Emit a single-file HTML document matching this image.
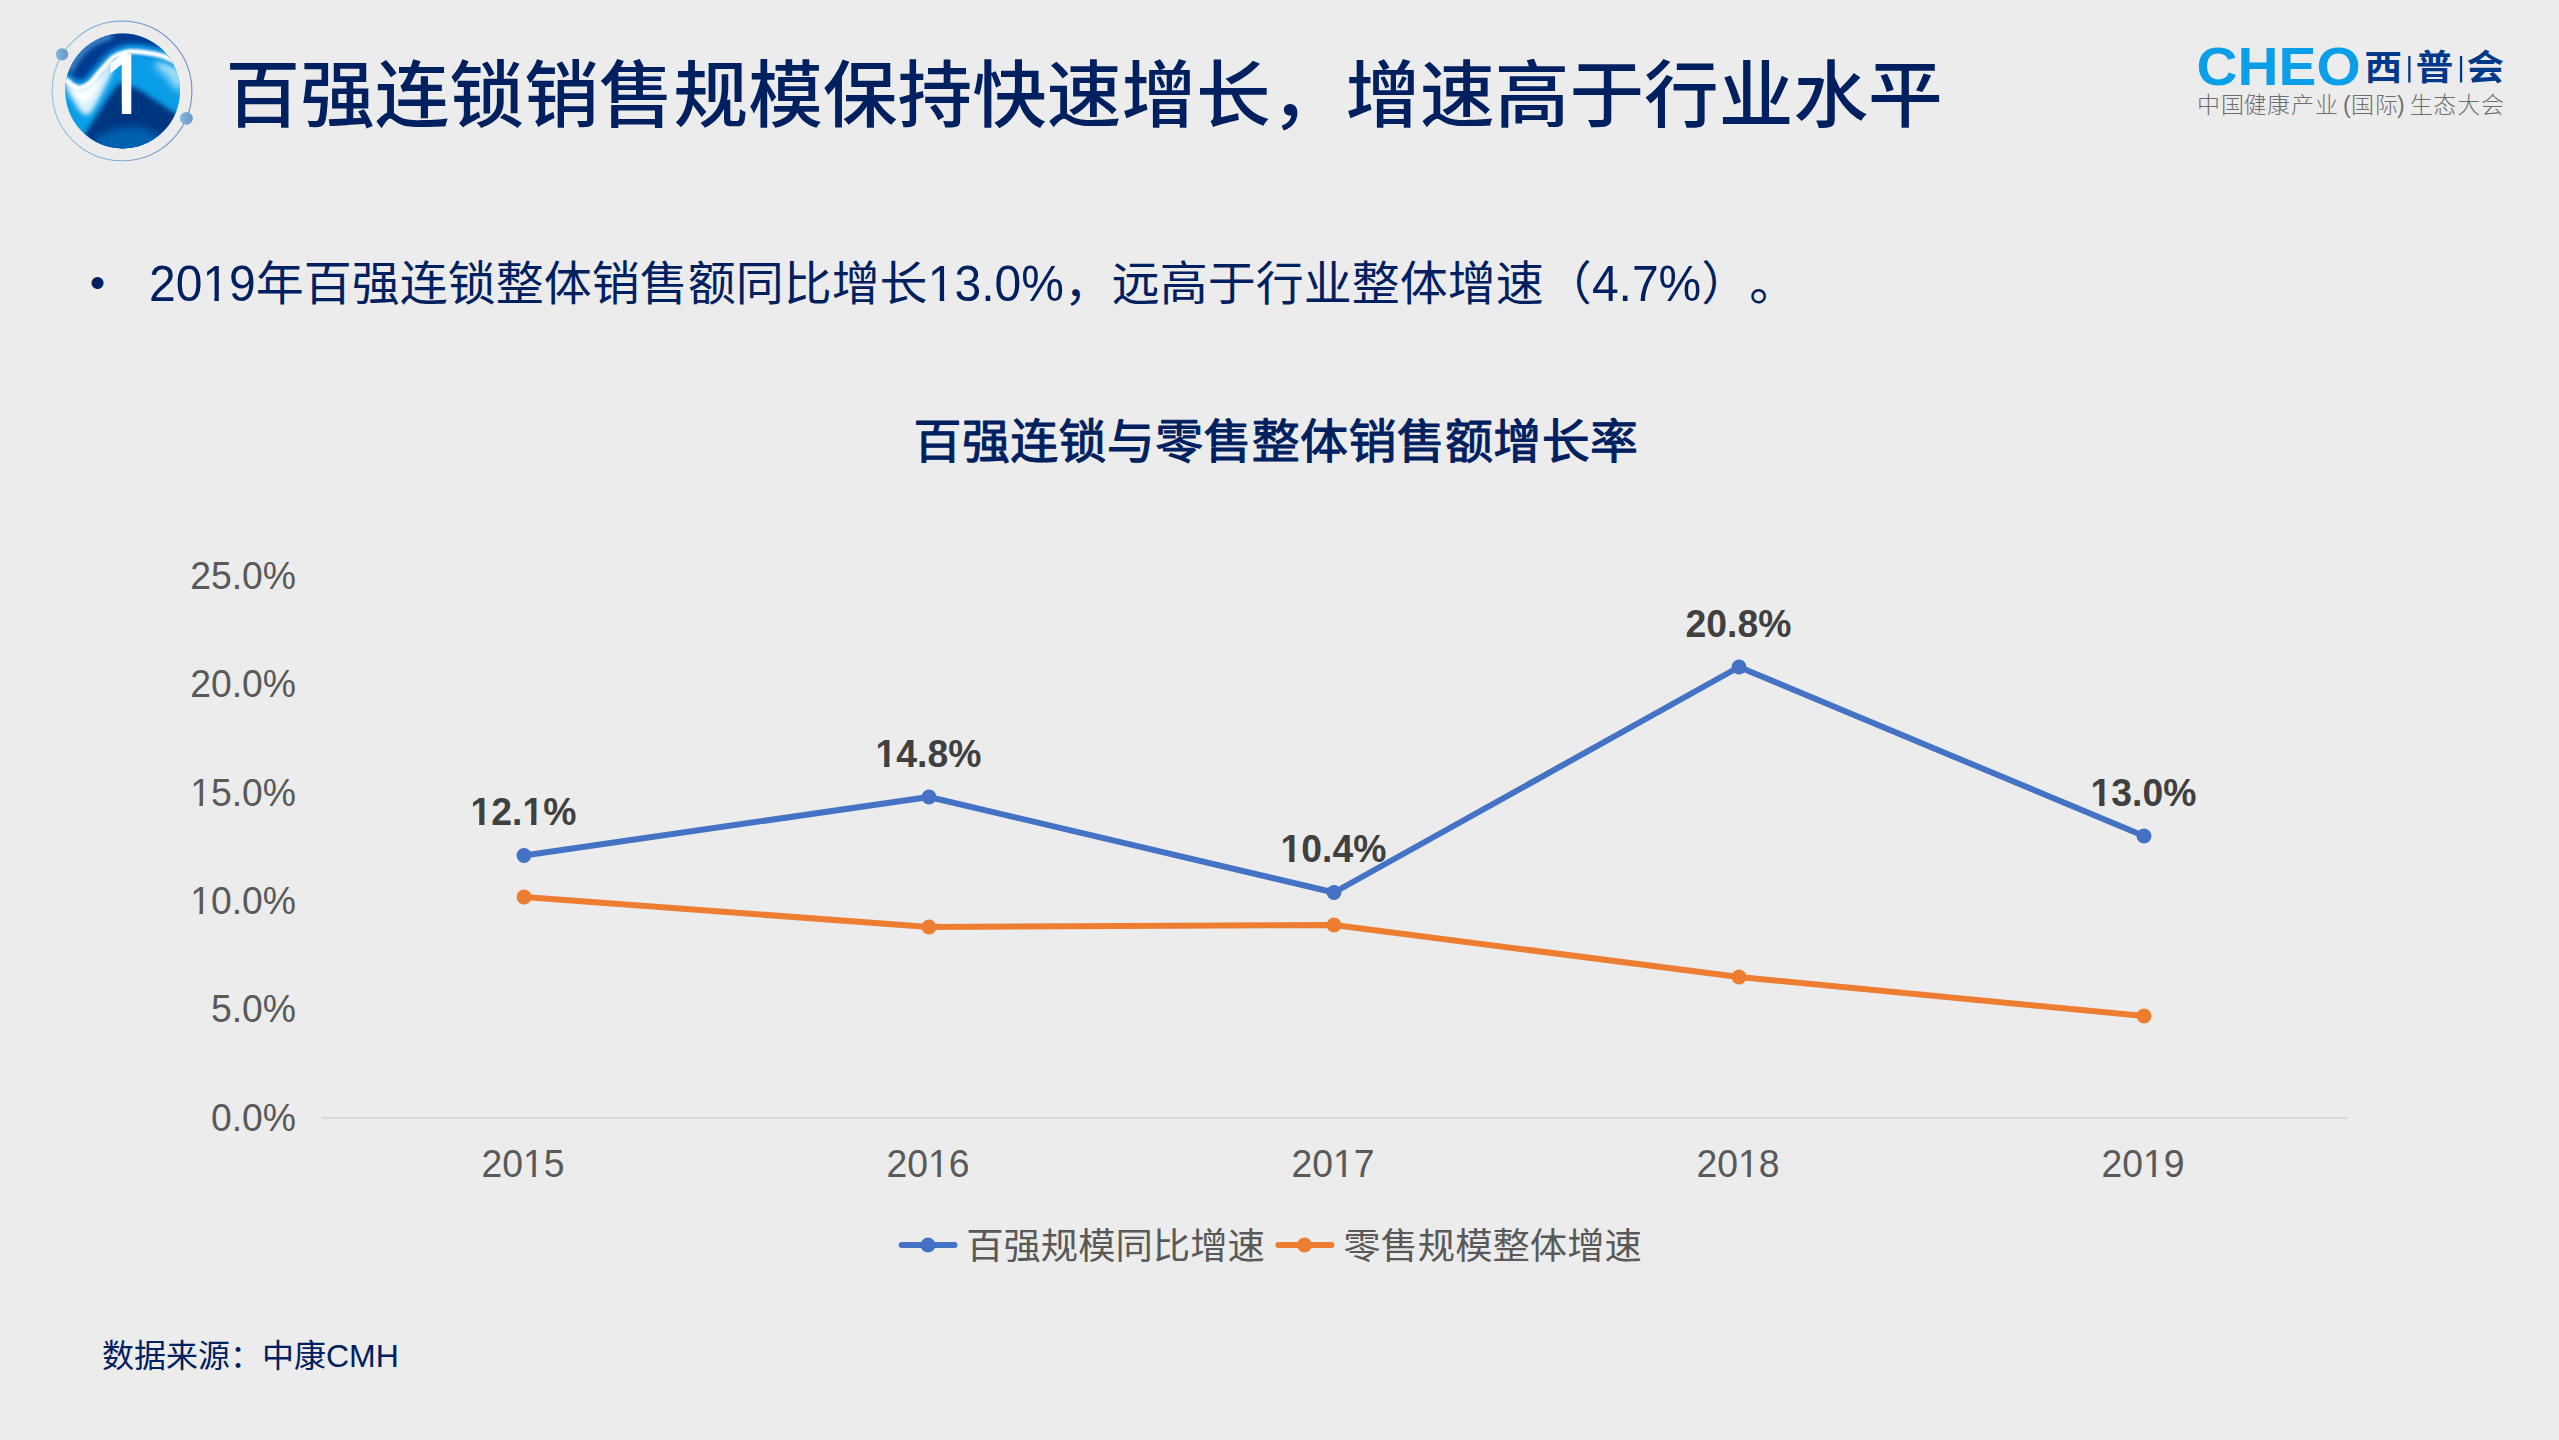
<!DOCTYPE html>
<html lang="zh-CN">
<head>
<meta charset="utf-8">
<title>百强连锁销售规模保持快速增长，增速高于行业水平</title>
<style>
html,body{margin:0;padding:0;}
body{width:2559px;height:1440px;overflow:hidden;background:#ececec;position:relative;
  font-family:"Liberation Sans","Noto Sans CJK SC",sans-serif;}
svg{position:absolute;left:0;top:0;display:block;}
svg text{font-family:"Liberation Sans","Noto Sans CJK SC",sans-serif;font-kerning:none;text-spacing-trim:space-all;white-space:pre;}
</style>
</head>
<body>
<svg id="slide" width="2559" height="1440" viewBox="0 0 2559 1440">
  <!-- icon ball -->
  <defs>
    <clipPath id="ballclip"><circle cx="122.6" cy="91" r="57.4"/></clipPath>
    <filter id="b1" x="-50%" y="-50%" width="200%" height="200%"><feGaussianBlur stdDeviation="1.3"/></filter>
    <filter id="b2" x="-50%" y="-50%" width="200%" height="200%"><feGaussianBlur stdDeviation="2.6"/></filter>
    <filter id="b3" x="-50%" y="-50%" width="200%" height="200%"><feGaussianBlur stdDeviation="4.5"/></filter>
    <linearGradient id="ringg" x1="0" y1="0" x2="1" y2="0"><stop offset="0" stop-color="#8fc3e6"/><stop offset="1" stop-color="#6f8fc0"/></linearGradient>
    <linearGradient id="dotg" x1="0" y1="0" x2="1" y2="0"><stop offset="0" stop-color="#7fb9e0"/><stop offset="1" stop-color="#6c94c6"/></linearGradient>
  </defs>
  <circle cx="122.05" cy="90.95" r="69.85" fill="none" stroke="url(#ringg)" stroke-width="1.1"/>
  <circle cx="122.6" cy="91" r="57.4" fill="#0a9ee8"/>
  <g clip-path="url(#ballclip)">
    <path d="M159.5 58.0C162.0 57.1 168.4 59.8 172.2 62.2C176.0 64.6 180.6 67.9 182.3 72.4C184.0 76.9 183.6 86.8 182.3 89.3C181.1 91.9 177.1 89.6 174.7 87.6C172.3 85.6 170.9 80.8 167.9 77.5C165.0 74.1 158.3 70.5 156.9 67.3C155.5 64.0 156.9 58.8 159.5 58.0Z" fill="#a6e0f8" filter="url(#b3)"/>
    <path d="M121.3 83.0C123.6 82.8 126.7 84.7 129.8 85.9C132.9 87.1 135.7 87.8 140.0 90.2C144.2 92.6 149.9 96.8 155.2 100.3C160.6 103.9 166.5 107.8 172.2 111.4C177.8 114.9 186.3 113.9 189.1 121.5C191.9 129.2 207.5 151.2 189.1 157.1C170.8 163.1 96.5 160.5 78.9 157.1C61.4 153.7 82.1 142.1 84.0 136.8C86.0 131.4 88.1 129.3 90.8 124.9C93.5 120.5 97.0 115.3 100.1 110.5C103.2 105.7 106.8 100.1 109.5 96.1C112.1 92.1 114.3 89.0 116.2 86.8C118.2 84.6 119.1 83.1 121.3 83.0Z" fill="#00367f" filter="url(#b2)"/>
    <path d="M94.2 140.2C93.6 136.1 103.5 133.1 109.5 130.8C115.4 128.6 123.3 126.8 129.8 126.6C136.3 126.5 142.8 127.7 148.4 130.0C154.1 132.3 164.0 135.9 163.7 140.2C163.4 144.4 155.2 152.9 146.7 155.4C138.3 158.0 121.6 158.0 112.8 155.4C104.1 152.9 94.8 144.3 94.2 140.2Z" fill="#0066b6" opacity="0.9" filter="url(#b3)"/>
    <path d="M60.3 70.7C61.2 78.6 63.8 75.3 67.1 77.5C70.3 79.6 76.0 83.6 79.8 83.8C83.6 84.0 86.3 81.9 90.0 78.7C93.6 75.6 97.9 69.1 101.8 64.7C105.8 60.4 109.2 55.5 113.7 52.5C118.2 49.4 123.4 47.4 128.9 46.5C134.5 45.6 141.0 46.2 146.7 46.9C152.5 47.7 158.0 48.9 163.7 50.8C169.3 52.6 177.1 61.4 180.6 58.0C184.2 54.5 204.7 34.7 184.9 30.0C165.1 25.3 82.8 23.2 62.0 30.0C41.2 36.8 59.5 62.8 60.3 70.7Z" fill="#003a90" filter="url(#b1)"/>
    <circle cx="122.6" cy="91" r="56" fill="none" stroke="#4f9ade" stroke-width="6" stroke-linecap="round" stroke-dasharray="52 400" stroke-dashoffset="-198" opacity="0.85" filter="url(#b2)"/>
    <path d="M63.7 76.2C65.1 77.5 69.5 82.5 72.2 84.2C74.9 86.0 76.8 87.2 79.8 86.8C82.8 86.4 86.2 84.9 90.0 81.7C93.8 78.4 98.6 71.7 102.7 67.3C106.8 62.9 110.0 58.2 114.5 55.4C119.1 52.6 124.4 51.1 129.8 50.5C135.2 49.9 141.1 50.8 146.7 51.6C152.4 52.4 158.3 53.5 163.7 55.2C169.1 56.9 176.4 60.7 178.9 61.8" fill="none" stroke="#0a8fe0" stroke-width="13" filter="url(#b2)"/>
    <path d="M65.4 80.8C67.5 80.7 75.7 88.1 79.8 88.5C83.9 88.9 86.2 86.5 90.0 83.4C93.8 80.3 98.9 73.6 102.7 69.8C106.5 66.0 111.4 59.8 112.8 60.5C114.3 61.2 112.7 69.1 111.2 74.1C109.6 79.0 106.1 85.1 103.5 90.2C101.0 95.3 98.4 100.5 95.9 104.6C93.4 108.7 90.8 113.6 88.3 114.7C85.7 115.9 83.2 113.8 80.6 111.4C78.1 109.0 75.3 104.0 73.0 100.3C70.8 96.7 68.4 92.6 67.1 89.3C65.8 86.1 63.3 81.0 65.4 80.8Z" fill="#d8f0fc" filter="url(#b2)"/>
    <path d="M71.3 87.6C71.9 86.4 78.0 91.4 81.5 91.0C85.0 90.6 89.4 87.3 92.5 85.1C95.6 82.8 99.3 77.0 100.1 77.5C101.0 77.9 99.1 84.2 97.6 87.6C96.0 91.0 92.9 95.3 90.8 97.8C88.7 100.3 87.0 102.7 84.9 102.9C82.8 103.0 80.4 101.2 78.1 98.6C75.8 96.1 70.8 88.9 71.3 87.6Z" fill="#ffffff" filter="url(#b2)"/>
    <path d="M63.7 77.5C65.1 78.7 69.5 83.3 72.2 85.1C74.9 86.9 76.8 88.4 79.8 88.1C82.8 87.7 86.2 86.2 90.0 83.0C93.8 79.7 98.6 72.9 102.7 68.6C106.8 64.2 110.0 59.5 114.5 56.7C119.1 53.9 124.4 52.3 129.8 51.6C135.2 50.9 141.1 51.9 146.7 52.7C152.4 53.5 158.6 54.5 163.7 56.3C168.8 58.0 175.0 61.9 177.3 63.1" fill="none" stroke="#ffffff" stroke-width="5" stroke-linecap="round" filter="url(#b1)"/>
  </g>
  <circle cx="62" cy="54.4" r="6.2" fill="url(#dotg)"/>
  <circle cx="186.4" cy="118.3" r="6.4" fill="url(#dotg)"/>
  <clipPath id="oneclip"><rect x="-5" y="-75" width="60" height="65.3"/><rect x="20.42" y="-10" width="12.02" height="12"/></clipPath>
  <g id="badge-number" transform="translate(105.8 114.1) scale(0.786 1)"><g clip-path="url(#oneclip)"><text x="0" y="0" font-size="87.5" font-weight="bold" fill="#ffffff">1</text></g></g>
  <g id="logo">
    <text transform="translate(2196.5 84.7) scale(1.0745 1)" x="0" y="0" font-size="52.9" font-weight="bold" fill="#0a9fe8">CHEO</text>
    <g transform="translate(0 80.2) scale(1.055 1)"><text x="2241.2 2289.8 2337.9" y="0" font-size="35.6" font-weight="700" fill="#00388a">西普会</text></g>
    <rect x="2408.2" y="56" width="2.3" height="26.5" fill="#00388a"/>
    <rect x="2459.9" y="56" width="2.3" height="26.5" fill="#00388a"/>
    <text x="2197 2221 2243.5 2267 2291 2315 2343 2351 2375 2397 2409.8 2433.3 2457.2 2481" y="112.6" font-size="23" font-weight="300" fill="#6e6e6e">中国健康产业(国际)生态大会</text>
  </g>
  <g id="title"><g transform="translate(225.50 127.41) scale(1 0.972)"><text x="0" y="-6.20" font-size="74.67" font-weight="500" fill="#002060">百强连锁销售规模保持快速增长，增速高于行业水平</text></g></g>
  <g id="bullet"><text x="89.80" y="298.00" font-size="44" fill="#002060">•</text></g>
  <g id="body"><g transform="translate(149.00 300.63) scale(1 1.050)"><text x="0" y="0" font-size="48" fill="#002060">2019</text><rect x="56.25" y="-4.29" width="9.09" height="5.09" fill="#ececec"/><rect x="69.82" y="-4.29" width="8.72" height="5.09" fill="#ececec"/></g><g transform="translate(255.78 303.61) scale(1 0.973)"><text x="0" y="-3.98" font-size="48" font-weight="400" fill="#002060">年百强连锁整体销售额同比增长</text></g><g transform="translate(927.78 300.63) scale(1 1.050)"><text x="0" y="0" font-size="48" fill="#002060">13.0%</text><rect x="2.86" y="-4.29" width="9.09" height="5.09" fill="#ececec"/><rect x="16.43" y="-4.29" width="8.72" height="5.09" fill="#ececec"/></g><g transform="translate(1063.88 303.61) scale(1 0.973)"><text x="0" y="-3.98" font-size="48" font-weight="400" fill="#002060">，远高于行业整体增速（</text></g><g transform="translate(1591.88 300.63) scale(1 1.050)"><text x="0" y="0" font-size="48" fill="#002060">4.7%</text></g><g transform="translate(1701.29 303.61) scale(1 0.973)"><text x="0 48" y="-3.98" font-size="48" font-weight="400" fill="#002060">）。</text></g></g>
  <g id="chart-title"><g transform="translate(913.60 461.38) scale(1 0.978)"><text x="0" y="-3.98" font-size="48" font-weight="400" fill="#002060" stroke="#002060" stroke-width="1.1" stroke-linejoin="round" letter-spacing="0.32">百强连锁与零售整体销售额增长率</text></g></g>
  <g id="chart">
    <line x1="322" y1="1118" x2="2347" y2="1118" stroke="#d9d9d9" stroke-width="2"/>
    <g transform="translate(190.15 589.00) scale(1 1.050)"><text x="0" y="0" font-size="37.33" fill="#595959">25.0%</text></g>
    <g transform="translate(190.15 697.00) scale(1 1.050)"><text x="0" y="0" font-size="37.33" fill="#595959">20.0%</text></g>
    <g transform="translate(190.15 806.00) scale(1 1.050)"><text x="0" y="0" font-size="37.33" fill="#595959">15.0%</text><rect x="2.04" y="-3.49" width="7.22" height="4.29" fill="#ececec"/><rect x="12.81" y="-3.49" width="6.93" height="4.29" fill="#ececec"/></g>
    <g transform="translate(190.15 914.00) scale(1 1.050)"><text x="0" y="0" font-size="37.33" fill="#595959">10.0%</text><rect x="2.04" y="-3.49" width="7.22" height="4.29" fill="#ececec"/><rect x="12.81" y="-3.49" width="6.93" height="4.29" fill="#ececec"/></g>
    <g transform="translate(210.91 1022.00) scale(1 1.050)"><text x="0" y="0" font-size="37.33" fill="#595959">5.0%</text></g>
    <g transform="translate(210.91 1131.00) scale(1 1.050)"><text x="0" y="0" font-size="37.33" fill="#595959">0.0%</text></g>
    <g transform="translate(481.48 1177.20) scale(1 1.050)"><text x="0" y="0" font-size="37.33" fill="#595959">2015</text><rect x="43.57" y="-3.49" width="7.22" height="4.29" fill="#ececec"/><rect x="54.33" y="-3.49" width="6.93" height="4.29" fill="#ececec"/></g>
    <g transform="translate(886.48 1177.20) scale(1 1.050)"><text x="0" y="0" font-size="37.33" fill="#595959">2016</text><rect x="43.57" y="-3.49" width="7.22" height="4.29" fill="#ececec"/><rect x="54.33" y="-3.49" width="6.93" height="4.29" fill="#ececec"/></g>
    <g transform="translate(1291.48 1177.20) scale(1 1.050)"><text x="0" y="0" font-size="37.33" fill="#595959">2017</text><rect x="43.57" y="-3.49" width="7.22" height="4.29" fill="#ececec"/><rect x="54.33" y="-3.49" width="6.93" height="4.29" fill="#ececec"/></g>
    <g transform="translate(1696.48 1177.20) scale(1 1.050)"><text x="0" y="0" font-size="37.33" fill="#595959">2018</text><rect x="43.57" y="-3.49" width="7.22" height="4.29" fill="#ececec"/><rect x="54.33" y="-3.49" width="6.93" height="4.29" fill="#ececec"/></g>
    <g transform="translate(2101.48 1177.20) scale(1 1.050)"><text x="0" y="0" font-size="37.33" fill="#595959">2019</text><rect x="43.57" y="-3.49" width="7.22" height="4.29" fill="#ececec"/><rect x="54.33" y="-3.49" width="6.93" height="4.29" fill="#ececec"/></g>
    <polyline fill="none" stroke="#4472c4" stroke-width="6" stroke-linejoin="round" stroke-linecap="round" points="524,855.5 929,797 1334,892.5 1739,667 2144,836"/>
    <g fill="#4472c4"><circle cx="524" cy="855.5" r="7.5"/><circle cx="929" cy="797" r="7.5"/><circle cx="1334" cy="892.5" r="7.5"/><circle cx="1739" cy="667" r="7.5"/><circle cx="2144" cy="836" r="7.5"/></g>
    <polyline fill="none" stroke="#ed7d31" stroke-width="6" stroke-linejoin="round" stroke-linecap="round" points="524,897 929,927 1334,925 1739,977 2144,1016"/>
    <g fill="#ed7d31"><circle cx="524" cy="897" r="7.5"/><circle cx="929" cy="927" r="7.5"/><circle cx="1334" cy="925" r="7.5"/><circle cx="1739" cy="977" r="7.5"/><circle cx="2144" cy="1016" r="7.5"/></g>
    <g transform="translate(470.58 824.50) scale(1 1.050)"><text x="0" y="0" font-size="37.33" font-weight="bold" fill="#404040">12.1%</text><rect x="1.55" y="-4.51" width="7.04" height="5.31" fill="#ececec"/><rect x="13.95" y="-4.51" width="6.57" height="5.31" fill="#ececec"/><rect x="53.45" y="-4.51" width="7.04" height="5.31" fill="#ececec"/><rect x="65.85" y="-4.51" width="6.57" height="5.31" fill="#ececec"/></g>
    <g transform="translate(875.58 766.50) scale(1 1.050)"><text x="0" y="0" font-size="37.33" font-weight="bold" fill="#404040">14.8%</text><rect x="1.55" y="-4.51" width="7.04" height="5.31" fill="#ececec"/><rect x="13.95" y="-4.51" width="6.57" height="5.31" fill="#ececec"/></g>
    <g transform="translate(1280.58 861.50) scale(1 1.050)"><text x="0" y="0" font-size="37.33" font-weight="bold" fill="#404040">10.4%</text><rect x="1.55" y="-4.51" width="7.04" height="5.31" fill="#ececec"/><rect x="13.95" y="-4.51" width="6.57" height="5.31" fill="#ececec"/></g>
    <g transform="translate(1685.58 636.50) scale(1 1.050)"><text x="0" y="0" font-size="37.33" font-weight="bold" fill="#404040">20.8%</text></g>
    <g transform="translate(2090.58 805.50) scale(1 1.050)"><text x="0" y="0" font-size="37.33" font-weight="bold" fill="#404040">13.0%</text><rect x="1.55" y="-4.51" width="7.04" height="5.31" fill="#ececec"/><rect x="13.95" y="-4.51" width="6.57" height="5.31" fill="#ececec"/></g>
    <line x1="901.7" y1="1245" x2="954.5" y2="1245" stroke="#4472c4" stroke-width="6" stroke-linecap="round"/>
    <circle cx="928" cy="1245" r="7.5" fill="#4472c4"/>
    <g transform="translate(966.20 1262.10) scale(1 0.975)"><text x="0" y="-3.10" font-size="37.33" font-weight="400" fill="#595959">百强规模同比增速</text></g>
    <line x1="1278.3" y1="1245" x2="1331.4" y2="1245" stroke="#ed7d31" stroke-width="6" stroke-linecap="round"/>
    <circle cx="1304.5" cy="1245" r="7.5" fill="#ed7d31"/>
    <g transform="translate(1343.20 1262.10) scale(1 0.975)"><text x="0" y="-3.10" font-size="37.33" font-weight="400" fill="#595959">零售规模整体增速</text></g>
  </g>
  <g id="source"><text x="102.00" y="1367.40" font-size="32" fill="#002060">数据来源：中康CMH</text></g>
</svg>
</body>
</html>
